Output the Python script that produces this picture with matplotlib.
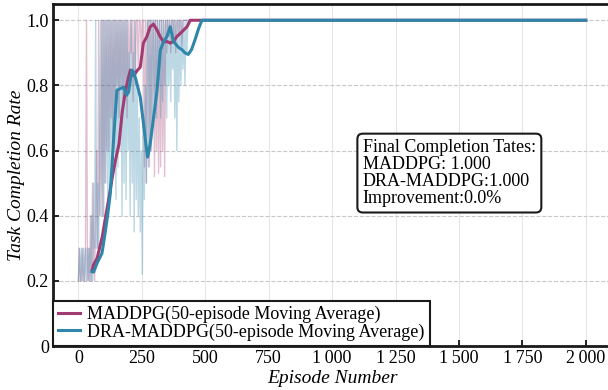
import matplotlib
matplotlib.use("Agg")
import matplotlib.pyplot as plt
from matplotlib.ticker import FuncFormatter, MultipleLocator

plt.rcParams['font.family'] = ['Liberation Serif', 'DejaVu Serif']

# raw episode values, step of 4 episodes, then flat
raw_eps = list(range(0, 440, 4)) + [2000]
raw_maddpg = [0.2, 0.3, 0.2, 0.2, 0.3, 0.2, 0.2, 0.3, 1.0, 0.2,
              0.3, 0.2, 0.4, 0.2, 0.5, 0.3, 0.2, 0.4, 0.6, 0.3,
              1.0, 0.4, 0.5, 1.0, 0.4, 1.0, 0.5, 1.0, 0.6, 1.0,
              0.6, 1.0, 0.7, 1.0, 0.6, 1.0, 0.7, 1.0, 0.8, 1.0,
              0.7, 1.0, 0.8, 1.0, 0.75, 1.0, 0.8, 1.0, 0.7, 1.0,
              0.8, 1.0, 0.9, 1.0, 0.75, 1.0, 0.8, 1.0, 1.0, 0.85,
              1.0, 1.0, 0.9, 1.0, 1.0, 0.55, 1.0, 0.5, 1.0, 1.0,
              0.55, 1.0, 0.6, 1.0, 1.0, 0.52, 1.0, 0.6, 1.0, 0.53,
              1.0, 0.55, 1.0, 0.6, 1.0, 0.52, 1.0, 0.9, 1.0, 0.95,
              1.0, 0.9, 1.0, 1.0, 0.95, 1.0, 0.9, 1.0, 1.0, 0.95,
              1.0, 1.0, 0.92, 1.0, 1.0, 1.0, 1.0, 1.0, 1.0, 1.0,
              1.0]
raw_dra = [0.2, 0.3, 0.2, 0.3, 0.2, 0.3, 0.2, 0.3, 0.2, 0.3,
           0.2, 0.3, 0.2, 0.4, 0.2, 0.5, 0.3, 1.0, 0.3, 0.5,
           0.3, 0.6, 1.0, 0.4, 1.0, 0.4, 1.0, 0.5, 1.0, 0.4,
           1.0, 0.45, 1.0, 0.5, 1.0, 0.6, 1.0, 0.45, 1.0, 0.55,
           1.0, 0.6, 1.0, 0.4, 1.0, 0.5, 1.0, 0.45, 1.0, 0.6,
           0.9, 0.4, 1.0, 0.5, 0.9, 0.35, 1.0, 0.45, 0.8, 0.4,
           0.7, 0.35, 0.6, 0.22, 0.7, 0.45, 0.8, 0.5, 1.0, 0.55,
           1.0, 0.6, 1.0, 0.7, 1.0, 0.75, 1.0, 0.7, 1.0, 0.8,
           1.0, 0.7, 1.0, 0.75, 1.0, 0.8, 1.0, 0.7, 1.0, 0.8,
           1.0, 0.75, 1.0, 0.85, 1.0, 0.7, 1.0, 0.6, 1.0, 0.75,
           1.0, 0.8, 1.0, 0.85, 1.0, 0.8, 1.0, 0.9, 1.0, 1.0,
           1.0]

# 50-episode moving averages
ma_eps_maddpg = [54, 60, 74, 94, 108, 121, 134, 146, 160, 173, 186, 196, 205,
                 218, 231, 244, 256, 270, 283, 296, 310, 322, 336, 349, 362,
                 375, 388, 402, 415, 428, 441, 2000]
ma_maddpg = [0.233, 0.25, 0.27, 0.335, 0.40, 0.457, 0.52, 0.57, 0.62, 0.72,
             0.785, 0.82, 0.847, 0.83, 0.845, 0.856, 0.93, 0.95, 0.98, 0.988,
             0.97, 0.95, 0.933, 0.935, 0.93, 0.935, 0.95, 0.96, 0.97, 0.98,
             1.0, 1.0]
ma_eps_dra = [54, 60, 74, 93, 105, 115, 126, 133, 140, 152, 165, 178, 190,
              198, 211, 218, 226, 244, 257, 266, 273, 283, 296, 310, 323,
              335, 349, 362, 375, 394, 408, 420, 433, 446, 461, 474, 487, 2000]
ma_dra = [0.228, 0.227, 0.255, 0.285, 0.345, 0.40, 0.47, 0.56, 0.65, 0.785,
          0.79, 0.795, 0.77, 0.78, 0.847, 0.84, 0.82, 0.764, 0.68, 0.62,
          0.58, 0.62, 0.70, 0.785, 0.908, 0.933, 0.95, 0.98, 0.935, 0.917,
          0.91, 0.90, 0.895, 0.91, 0.943, 0.975, 1.0, 1.0]

summary_text = ("Final Completion Tates:\nMADDPG: 1.000\n"
                "DRA-MADDPG:1.000\nImprovement:0.0%")

c_maddpg = '#A23B72'
c_dra = '#2E86AB'

fig = plt.figure(figsize=(6.08, 3.9), dpi=100)
ax = fig.add_axes([0.0872, 0.1128, 0.918, 0.877])

ax.plot(raw_eps, raw_maddpg, color=c_maddpg, alpha=0.32, lw=1.0)
ax.plot(raw_eps, raw_dra, color=c_dra, alpha=0.32, lw=1.0)
ax.plot(ma_eps_maddpg, ma_maddpg, color=c_maddpg, lw=2.2,
        label='MADDPG(50-episode Moving Average)')
ax.plot(ma_eps_dra, ma_dra, color=c_dra, lw=2.2,
        label='DRA-MADDPG(50-episode Moving Average)')

ax.set_xlim(-100, 2100)
ax.set_ylim(0, 1.05)
ax.xaxis.set_major_locator(MultipleLocator(250))
ax.yaxis.set_major_locator(MultipleLocator(0.2))
ax.xaxis.set_major_formatter(FuncFormatter(lambda v, p: f"{int(v):,}".replace(",", "\u2009")))
ax.yaxis.set_major_formatter(FuncFormatter(lambda v, p: "0" if abs(v) < 1e-9 else f"{v:.1f}"))

ax.grid(axis='x', color='#e6e6e6', lw=0.8)
ax.grid(axis='y', color='#c8c8c8', lw=0.8, ls='--')
ax.set_axisbelow(True)

for s in ax.spines.values():
    s.set_linewidth(2.0)
    s.set_color('#1a1a1a')
ax.tick_params(direction='in', length=4, width=1.2, labelsize=13, pad=3)

ax.set_xlabel('Episode Number', fontsize=14, style='italic', labelpad=2)
ax.set_ylabel('Task Completion Rate', fontsize=14, style='italic', labelpad=1)

leg = ax.legend(loc='lower left', borderaxespad=0, fontsize=13, handlelength=1.2,
                handletextpad=0.4, labelspacing=0.0, borderpad=0.3,
                fancybox=False, framealpha=1)
leg.get_frame().set_edgecolor('#1a1a1a')
leg.get_frame().set_linewidth(1.5)

ax.text(0.555, 0.605, summary_text, transform=ax.transAxes, fontsize=13,
        va='top', ha='left', linespacing=1.0,
        bbox=dict(boxstyle='round,pad=0.3', fc='white', ec='#1a1a1a', lw=1.5))

fig.savefig('out.png', dpi=100)
